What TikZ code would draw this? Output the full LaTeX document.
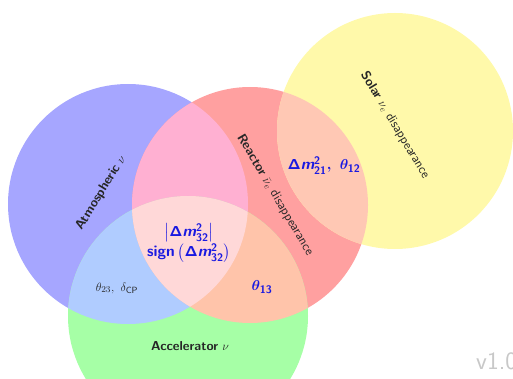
\documentclass[tikz,border=0pt]{standalone}
\usepackage{amsmath,amssymb,bm}
\renewcommand{\familydefault}{\sfdefault}
\definecolor{cB}{RGB}{166,166,255}
\definecolor{cR}{RGB}{255,160,160}
\definecolor{cY}{RGB}{255,249,170}
\definecolor{cG}{RGB}{166,255,166}
\definecolor{cBR}{RGB}{255,176,210}
\definecolor{cBG}{RGB}{176,204,255}
\definecolor{cRG}{RGB}{255,196,170}
\definecolor{cRY}{RGB}{255,200,180}
\definecolor{cBRG}{RGB}{255,216,216}
\definecolor{cTxtB}{RGB}{25,25,225}
\definecolor{cVer}{RGB}{200,200,200}
\newcommand{\dmsq}[1]{\mathsf{\Delta}\textsf{\bfseries\slshape m}^{\mathsf{2}}_{\mathsf{#1}}}
\tikzset{
  lbl/.style={inner sep=1pt, font=\fontsize{13}{15}\selectfont\sffamily, text=black!85},
  bluelbl/.style={inner sep=1pt, font=\fontsize{15.5}{18}\selectfont\sffamily\bfseries\boldmath, text=cTxtB, align=center},
}
\begin{document}
\begin{tikzpicture}[x=1pt,y=-1pt]
\useasboundingbox (0,0) rectangle (513,379);
\coordinate (B) at (128,204);
\coordinate (R) at (250,205);
\coordinate (Y) at (395,131);
\coordinate (G) at (188,316);
\def\rad{120}
% base circles
\fill[cB] (B) circle (\rad);
\fill[cR] (R) circle (118);
\fill[cY] (Y) circle (118);
\fill[cG] (G) circle (\rad);
% pairwise overlaps
\begin{scope}\clip (B) circle (\rad); \fill[cBR] (R) circle (118);\end{scope}
\begin{scope}\clip (B) circle (\rad); \fill[cBG] (G) circle (\rad);\end{scope}
\begin{scope}\clip (R) circle (118); \fill[cRG] (G) circle (\rad);\end{scope}
\begin{scope}\clip (R) circle (118); \fill[cRY] (Y) circle (118);\end{scope}
% triple overlap
\begin{scope}\clip (B) circle (\rad); \clip (R) circle (118); \fill[cBRG] (G) circle (\rad);\end{scope}
% labels
\node[lbl, rotate=58.5] (atm) at (101,193) {\textbf{Atmospheric} $\nu$};
\node[lbl, rotate=-59.4] (rea) at (275,195) {\textbf{Reactor} $\bar\nu_e$ disappearance};
\node[lbl, rotate=-59] (sol) at (395,125) {\textbf{Solar} $\nu_e$ disappearance};
\node[lbl] (acc) at (190,346) {\textbf{Accelerator} $\nu$};
\node[lbl] (t23) at (117,288) {$\theta_{23},\ \delta_{\mathsf{CP}}$};
\node[bluelbl] (m32) at (189,243) {$\left|\dmsq{32}\right|$\\[1pt] sign\,$\left(\dmsq{32}\right)$};
\node[bluelbl] (m21) at (324,166) {$\dmsq{21},\ \boldsymbol{\theta}_{\mathsf{12}}$};
\node[bluelbl] (t13) at (262,287) {$\boldsymbol{\theta}_{\mathsf{13}}$};
\node[anchor=base west, inner sep=0pt, font=\fontsize{25}{30}\selectfont\sffamily, text=cVer] (ver) at (476,369) {v1.0};
\end{tikzpicture}
\end{document}
